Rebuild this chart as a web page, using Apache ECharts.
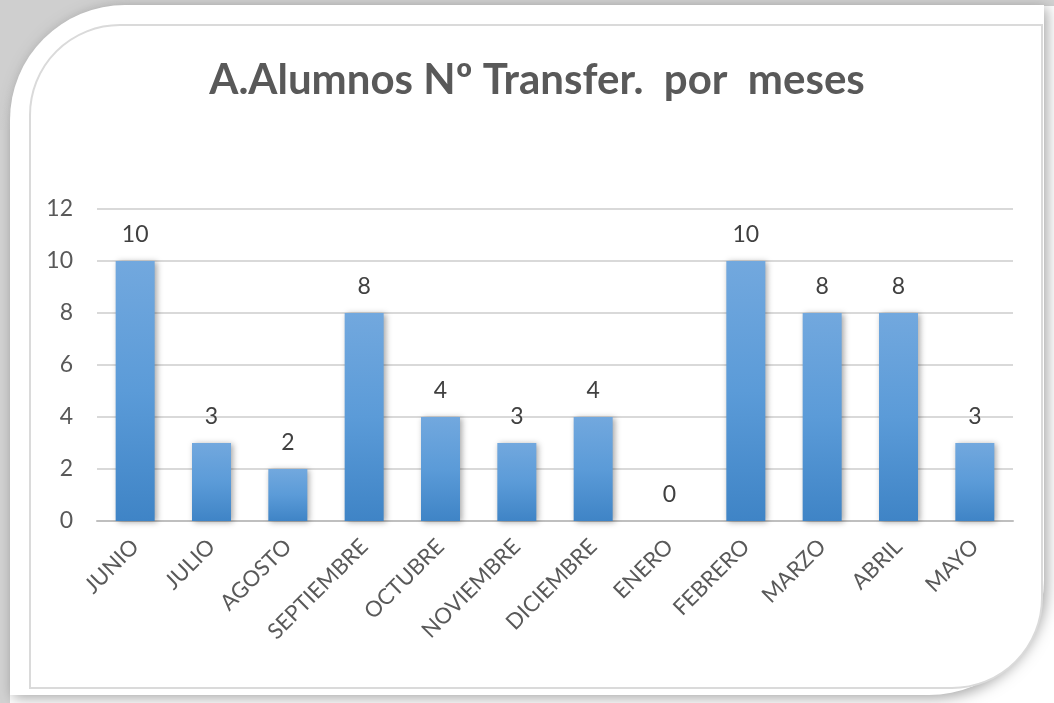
<!DOCTYPE html>
<html>
<head>
<meta charset="utf-8">
<script src="https://cdn.jsdelivr.net/npm/echarts@6/dist/echarts.min.js"></script>
<style>
html,body{margin:0;padding:0;background:#ffffff;}
#chart{width:1054px;height:703px;}
</style>
</head>
<body>
<div id="chart"></div>
<script>
var titleText = 'A.Alumnos Nº Transfer.  por  meses';
var categories = ['JUNIO','JULIO','AGOSTO','SEPTIEMBRE','OCTUBRE','NOVIEMBRE','DICIEMBRE','ENERO','FEBRERO','MARZO','ABRIL','MAYO'];
var values = [10,3,2,8,4,3,4,0,10,8,8,3];
var yTicks = [0,2,4,6,8,10,12];

var chart = echarts.init(document.getElementById('chart'));
var font = 'Lato, "Open Sans", sans-serif';
chart.setOption({
  animation:false,
  backgroundColor:'#ffffff',
  graphic:[
    {type:'rect', z:-10, shape:{x:0,y:0,width:1054,height:6}, style:{fill:'#d2d2d2'}, silent:true},
    {type:'rect', z:-10, shape:{x:0,y:0,width:10,height:703}, style:{fill:'#d2d2d2'}, silent:true},
    {type:'rect', z:-10, shape:{x:0,y:0,width:130,height:130},
      style:{fill:{type:'radial',x:1,y:1,r:1,colorStops:[{offset:0,color:'#f6f6f6'},{offset:0.6,color:'#e2e2e2'},{offset:1,color:'#cfcfcf'}]}}, silent:true},
    {type:'rect', z:-9, shape:{x:10,y:5,width:1034,height:690,r:[115,0,115,0]},
      style:{fill:'#ffffff',shadowBlur:14,shadowColor:'rgba(0,0,0,0.35)',shadowOffsetX:3,shadowOffsetY:3}, silent:true},
    {type:'rect', z:-8, shape:{x:30,y:25,width:1012,height:663,r:[90,0,90,0]},
      style:{fill:'#ffffff',stroke:'#dadada',lineWidth:2}, silent:true}
  ],
  title:{
    text:titleText,
    left:532,
    textAlign:'center',
    top:54,
    textStyle:{fontFamily:font,fontWeight:'bold',fontSize:42,color:'#595959'}
  },
  grid:{left:97,right:41,top:209,bottom:182,containLabel:false},
  xAxis:{
    type:'category',
    data:categories,
    axisLine:{lineStyle:{color:'#bfbfbf',width:2}},
    axisTick:{show:false},
    axisLabel:{rotate:45,margin:22,fontFamily:font,fontSize:22,color:'#595959',interval:0}
  },
  yAxis:{
    type:'value',
    min:0,max:12,interval:2,
    axisLine:{show:false},
    axisTick:{show:false},
    splitLine:{lineStyle:{color:'#d9d9d9',width:2}},
    axisLabel:{margin:24,fontFamily:font,fontSize:23,color:'#595959',
      formatter:function(v){return yTicks.indexOf(v)>=0?String(v):'';}}
  },
  series:[{
    type:'bar',
    data:values,
    barWidth:39,
    itemStyle:{
      color:{type:'linear',x:0,y:0,x2:0,y2:1,colorStops:[{offset:0,color:'#72a8de'},{offset:0.5,color:'#5b9bd8'},{offset:1,color:'#3f84c6'}]},
      shadowBlur:6,shadowColor:'rgba(0,0,0,0.35)',shadowOffsetX:2,shadowOffsetY:1
    },
    label:{show:true,position:'top',distance:15,fontFamily:font,fontSize:23,color:'#404040'}
  }]
});
</script>
</body>
</html>
